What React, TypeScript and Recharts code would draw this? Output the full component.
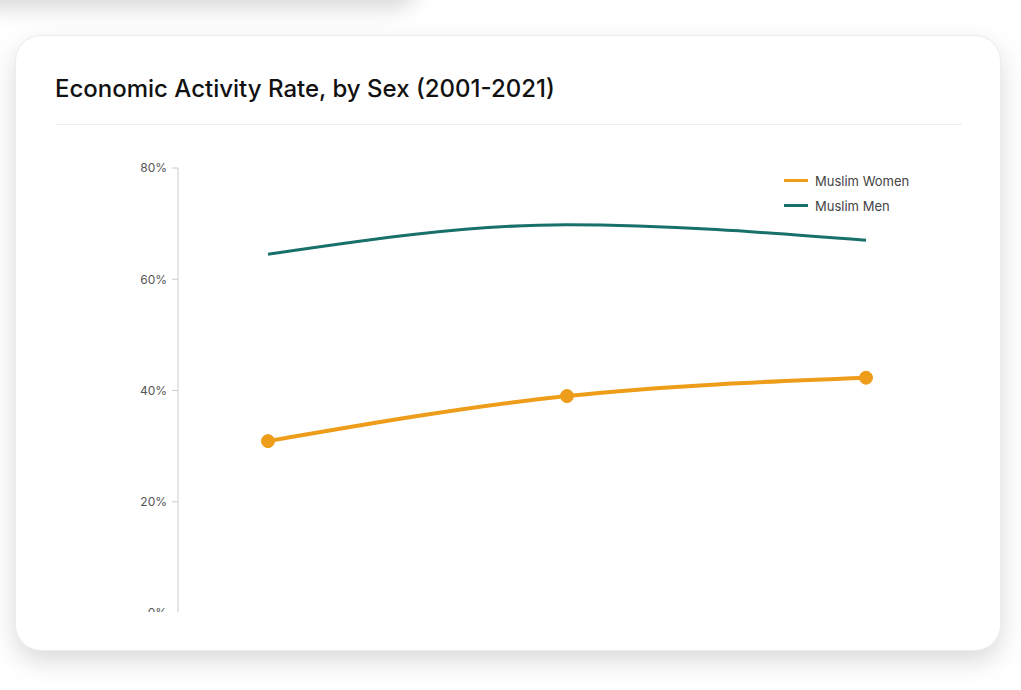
import React from 'react';
import { LineChart, Line, XAxis, YAxis, Legend } from 'recharts';

const years = ['2001', '2011', '2021'];
const womenRates = [30.9, 39.0, 42.3];
const menRates = [64.5, 69.8, 67.0];
const yTicks = [0, 20, 40, 60, 80];
const seriesNames = ['Muslim Women', 'Muslim Men'];

const data = years.map((year, i) => ({ year, women: womenRates[i], men: menRates[i] }));

const WOMEN = '#EE9D1A';
const MEN = '#18706A';
const FONT = 'Inter, "Open Sans", sans-serif';

const renderLegend = (props: any) => {
  const payload = [...(props.payload || [])].sort(
    (a: any, b: any) => seriesNames.indexOf(a.value) - seriesNames.indexOf(b.value)
  );
  return (
    <div style={{ fontFamily: FONT, fontSize: 13, color: '#444' }}>
      {payload.map((entry: any) => (
        <div key={entry.value} style={{ display: 'flex', alignItems: 'center', height: 25 }}>
          <span style={{ display: 'inline-block', width: 24, height: 3, background: entry.color, marginRight: 7 }} />
          <span>{entry.value}</span>
        </div>
      ))}
    </div>
  );
};

export default function App() {
  return (
    <div>
      <div style={{ position: 'absolute', left: -30, top: -100, width: 445, height: 100, background: '#f4f4f4', boxShadow: '0 8px 22px rgba(0,0,0,0.16)', borderRadius: 20 }} />
      <div style={{ position: 'absolute', left: 15, top: 35, width: 986, height: 616, background: '#fff', borderRadius: 26, boxShadow: '0 10px 26px rgba(0,0,0,0.15)', border: '1px solid #ececec', boxSizing: 'border-box' }} />
      <div style={{ position: 'absolute', left: 55, top: 74, fontFamily: FONT, fontSize: 24, fontWeight: 500, color: '#111', whiteSpace: 'nowrap' }}>
        Economic Activity Rate, by Sex (2001-2021)
      </div>
      <div style={{ position: 'absolute', left: 55, top: 124, width: 907, height: 1, background: '#ececec' }} />
      <div style={{ position: 'absolute', left: 0, top: 0, width: 1021, height: 612, overflow: 'hidden' }}>
        <LineChart width={1021} height={660} data={data} margin={{ top: 168, right: 65, left: 118, bottom: 47 }}>
          <XAxis dataKey="year" hide padding={{ left: 90, right: 90 }} />
          <YAxis
            width={60}
            domain={[0, 80]}
            ticks={yTicks}
            tickFormatter={(v: number) => `${v}%`}
            axisLine={{ stroke: '#ccc' }}
            tickLine={{ stroke: '#ccc' }}
            tickSize={6}
            tickMargin={5}
            tick={{ fill: '#555', fontSize: 12, fontFamily: FONT }}
          />
          <Legend
            layout="vertical"
            align="center"
            verticalAlign="middle"
            content={renderLegend}
            wrapperStyle={{ left: 784, top: 168, width: 180, height: 50 }}
          />
          <Line
            type="monotone"
            dataKey="women"
            name={seriesNames[0]}
            stroke={WOMEN}
            strokeWidth={4}
            dot={{ r: 6.5, fill: WOMEN, stroke: WOMEN, strokeWidth: 1 }}
            activeDot={false}
            isAnimationActive={false}
          />
          <Line
            type="monotone"
            dataKey="men"
            name={seriesNames[1]}
            stroke={MEN}
            strokeWidth={3}
            dot={false}
            activeDot={false}
            isAnimationActive={false}
          />
        </LineChart>
      </div>
    </div>
  );
}
